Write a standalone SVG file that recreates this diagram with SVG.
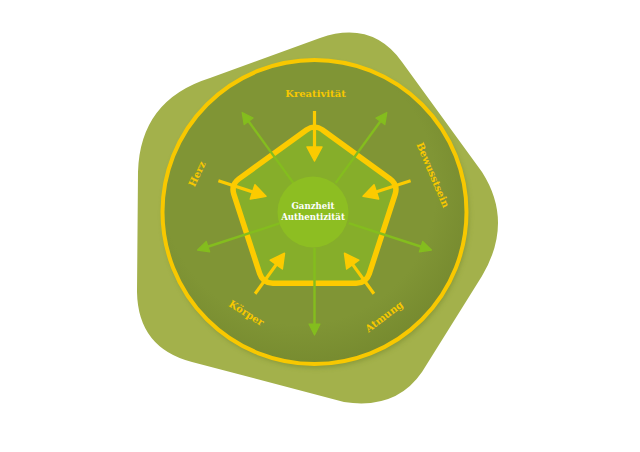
<svg xmlns="http://www.w3.org/2000/svg" width="640" height="452" viewBox="0 0 640 452">
<style>
.lbl{font-family:"DejaVu Serif","Liberation Serif",serif;font-weight:bold;font-size:10px;fill:#f8c800;text-anchor:middle}
.ctr{font-family:"DejaVu Serif","Liberation Serif",serif;font-weight:bold;font-size:8.6px;fill:#ffffff;text-anchor:middle}
.g{stroke:#84bd1e;stroke-width:2.4;fill:none;marker-end:url(#ga)}
.y{stroke:#fccb00;stroke-width:3.2;fill:none;marker-end:url(#ya)}
</style>
<defs>
<radialGradient id="cg" cx="0.45" cy="0.42" r="0.6">
<stop offset="0.75" stop-color="#809535"/>
<stop offset="1" stop-color="#768a2f"/>
</radialGradient>
<filter id="sh" x="-10%" y="-10%" width="120%" height="120%">
<feGaussianBlur stdDeviation="2.5"/>
</filter>
<marker id="ga" markerUnits="userSpaceOnUse" markerWidth="16" markerHeight="16" viewBox="-1 -8 14 16" refX="6" refY="0" orient="auto">
<path d="M0,-5.5 L11,0 L0,5.5 Z" fill="#84bd1e" stroke="#84bd1e" stroke-width="1.2" stroke-linejoin="round"/>
</marker>
<marker id="ya" markerUnits="userSpaceOnUse" markerWidth="20" markerHeight="20" viewBox="-2 -10 18 20" refX="7" refY="0" orient="auto">
<path d="M0,-7.5 L14,0 L0,7.5 Z" fill="#fccb00" stroke="#fccb00" stroke-width="1.5" stroke-linejoin="round"/>
</marker>
</defs>

<g id="blob">
<path d="M210,78 L320,38 Q372,20 402,62 L482,172 Q514,222 482,276 L422,372 Q396,410 344,402 L192,362 Q138,348 137,292 L138,172 Q140,100 210,78 Z" fill="#a3b14b"/>
</g>

<g id="ring">
<circle cx="316" cy="215" r="153" fill="#6f8229" opacity="0.5" filter="url(#sh)"/>
<circle cx="314.5" cy="212" r="152" fill="url(#cg)" stroke="#f8c800" stroke-width="4"/>
</g>

<g id="pentagon">
<path d="M322.6,129.9 L390.1,178.9 Q398.2,184.8 395.1,194.3 L369.3,273.7 Q366.2,283.2 356.2,283.2 L272.8,283.2 Q262.8,283.2 259.7,273.7 L233.9,194.3 Q230.8,184.8 238.9,178.9 L306.4,129.9 Q314.5,124 322.6,129.9 Z" fill="#86ae2a" stroke="#fccb00" stroke-width="5.5" stroke-linejoin="round"/>
</g>

<g id="connectors">
<line class="g" x1="293.3" y1="182.9" x2="245.1" y2="116.5"/>
<line class="g" x1="335.7" y1="182.9" x2="383.9" y2="116.5"/>
<line class="g" x1="280.3" y1="223.1" x2="202.3" y2="248.5"/>
<line class="g" x1="348.7" y1="223.1" x2="426.7" y2="248.5"/>
<line class="g" x1="314.5" y1="248" x2="314.5" y2="330"/>
<line class="y" x1="314.5" y1="111" x2="314.5" y2="154"/>
<line class="y" x1="410.6" y1="180.8" x2="369.7" y2="194.1"/>
<line class="y" x1="373.9" y1="293.7" x2="348.6" y2="258.9"/>
<line class="y" x1="255.1" y1="293.7" x2="280.4" y2="258.9"/>
<line class="y" x1="218.4" y1="180.8" x2="259.3" y2="194.1"/>
</g>

<g id="center">
<circle cx="313" cy="212" r="35.5" fill="#8dbe22"/>
<text class="ctr" x="313" y="208.5">Ganzheit</text>
<text class="ctr" x="313" y="219.5">Authentizität</text>
</g>

<g id="label-kreativitaet"><text class="lbl" x="315.5" y="97">Kreativität</text></g>
<g id="label-bewusstsein"><text class="lbl" transform="translate(433,175) rotate(67)" x="0" y="3.5">Bewusstsein</text></g>
<g id="label-herz"><text class="lbl" transform="translate(197,174) rotate(-65)" x="0" y="3.5">Herz</text></g>
<g id="label-koerper"><text class="lbl" transform="translate(246.5,313) rotate(32)" x="0" y="3.5">Körper</text></g>
<g id="label-atmung"><text class="lbl" transform="translate(384,316.5) rotate(-37)" x="0" y="3.5">Atmung</text></g>
</svg>
